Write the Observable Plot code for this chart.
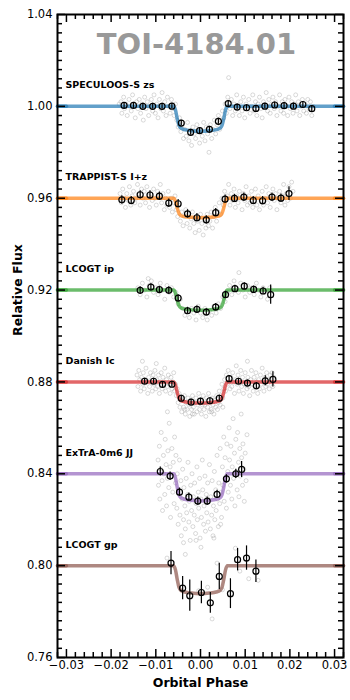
<!DOCTYPE html>
<html><head><meta charset="utf-8">
<script src="https://cdn.jsdelivr.net/npm/d3@7"></script>
<script src="https://cdn.jsdelivr.net/npm/@observablehq/plot@0.6"></script>
<style>body{margin:0;background:#fff;}</style>
</head><body><div id="chart"></div>
<script>
const names = ["SPECULOOS-S zs","TRAPPIST-S I+z","LCOGT ip","Danish Ic","ExTrA-0m6 JJ","LCOGT gp"];
const baselines = [1.00, 0.96, 0.92, 0.88, 0.84, 0.80];
const colors = ["#1f77b4","#ff7f0e","#2ca02c","#d62728","#9467bd","#8c564b"];
const depths = [0.0108, 0.0085, 0.0088, 0.0092, 0.0118, 0.0122];
const title = "TOI-4184.01";
const xTicks = [-0.03,-0.02,-0.01,0.00,0.01,0.02,0.03];
const yTicks = [0.76,0.80,0.84,0.88,0.92,0.96,1.00,1.04];

// transit model shape (fraction of depth)
const modelPhase = [-0.032,-0.030,-0.0060,-0.0056,-0.0052,-0.0048,-0.0044,-0.0035,-0.0020,0,0.0020,0.0035,0.0044,0.0048,0.0052,0.0056,0.0060,0.030,0.032];
const modelShape = [0,0,0,0.15,0.5,0.78,0.88,0.94,0.98,1,0.98,0.94,0.88,0.78,0.5,0.15,0,0,0];

// binned points
const specBinX = [-0.0171,-0.0150,-0.0129,-0.0107,-0.0086,-0.0064,-0.0043,-0.0022,-0.0002,0.0020,0.0040,0.0062,0.0082,0.0103,0.0124,0.0144,0.0166,0.0187,0.0208,0.0229,0.0249];
const specBinY = [1.0004,1.0004,1.0000,1.0000,1.0000,1.0001,0.9927,0.9887,0.9894,0.9900,0.9935,1.0012,0.9997,0.9994,0.9991,1.0001,1.0006,1.0003,1.0001,1.0008,0.9990];
const specBinE = [0.0013,0.0013,0.0013,0.0013,0.0013,0.0013,0.0013,0.0013,0.0013,0.0013,0.0013,0.0013,0.0013,0.0013,0.0013,0.0013,0.0013,0.0013,0.0013,0.0013,0.0013];
const trapBinX = [-0.0176,-0.0155,-0.0135,-0.0113,-0.0092,-0.0071,-0.0050,-0.0029,-0.0008,0.0013,0.0034,0.0055,0.0076,0.0097,0.0118,0.0139,0.0160,0.0180,0.0198];
const trapBinY = [0.9593,0.9590,0.9615,0.9614,0.9609,0.9579,0.9576,0.9532,0.9515,0.9506,0.9537,0.9596,0.9599,0.9605,0.9590,0.9589,0.9605,0.9600,0.9620];
const trapBinE = [0.0018,0.0018,0.0018,0.0018,0.0018,0.0018,0.0018,0.0018,0.0018,0.0018,0.0018,0.0018,0.0018,0.0018,0.0018,0.0018,0.0018,0.0018,0.0030];
const ipBinX = [-0.0135,-0.0111,-0.0092,-0.0071,-0.0050,-0.0029,-0.0008,0.0013,0.0034,0.0056,0.0077,0.0098,0.0119,0.0140,0.0157];
const ipBinY = [0.9199,0.9213,0.9202,0.9199,0.9165,0.9110,0.9116,0.9104,0.9126,0.9180,0.9206,0.9217,0.9203,0.9196,0.9180];
const ipBinE = [0.0016,0.0015,0.0015,0.0015,0.0015,0.0015,0.0015,0.0015,0.0015,0.0015,0.0015,0.0015,0.0015,0.0016,0.0042];
const danBinX = [-0.0125,-0.0105,-0.0085,-0.0064,-0.0043,-0.0021,0.0000,0.0021,0.0042,0.0064,0.0085,0.0105,0.0125,0.0145,0.0162];
const danBinY = [0.8803,0.8803,0.8789,0.8790,0.8729,0.8712,0.8716,0.8718,0.8729,0.8814,0.8803,0.8795,0.8783,0.8805,0.8811];
const danBinE = [0.0013,0.0013,0.0013,0.0013,0.0013,0.0013,0.0013,0.0013,0.0013,0.0013,0.0013,0.0013,0.0015,0.0022,0.0033];
const extBinX = [-0.0090,-0.0068,-0.0047,-0.0026,-0.0006,0.0015,0.0037,0.0058,0.0079,0.0092];
const extBinY = [0.8410,0.8390,0.8320,0.8298,0.8281,0.8281,0.8310,0.8378,0.8400,0.8419];
const extBinE = [0.0020,0.0018,0.0018,0.0018,0.0018,0.0018,0.0018,0.0018,0.0020,0.0035];
const gpBinX = [-0.0066,-0.0040,-0.0024,0.0002,0.0022,0.0042,0.0067,0.0083,0.0103,0.0124];
const gpBinY = [0.8011,0.7902,0.7869,0.7883,0.7838,0.7953,0.7878,0.8026,0.8033,0.7976];
const gpBinE = [0.0051,0.0051,0.0068,0.0049,0.0045,0.0057,0.0065,0.0049,0.0053,0.0049];

// unbinned (grey) points, [phase, flux]
const specRaw = [[-0.0182,1.001],[-0.0178,1.002],[-0.0176,0.997],[-0.0172,1.004],[-0.0170,0.999],[-0.0167,1.001],[-0.0164,0.996],[-0.0160,1.003],[-0.0158,1.000],[-0.0155,0.998],[-0.0152,1.005],[-0.0149,1.001],[-0.0146,0.995],[-0.0143,1.002],[-0.0140,0.999],[-0.0137,1.003],[-0.0134,0.997],[-0.0131,1.001],[-0.0128,0.994],[-0.0125,1.004],[-0.0122,0.999],[-0.0119,1.002],[-0.0116,0.996],[-0.0113,1.000],[-0.0110,1.003],[-0.0107,0.998],[-0.0104,1.005],[-0.0101,0.997],[-0.0098,1.001],[-0.0095,0.995],[-0.0092,1.003],[-0.0089,0.999],[-0.0086,1.006],[-0.0083,0.998],[-0.0080,1.002],[-0.0077,0.996],[-0.0074,1.004],[-0.0071,1.000],[-0.0068,0.997],[-0.0065,1.003],[-0.0062,0.999],[-0.0059,0.996],[-0.0056,1.001],[-0.0053,0.994],[-0.0050,0.991],[-0.0047,0.995],[-0.0044,0.989],[-0.0041,0.992],[-0.0038,0.986],[-0.0035,0.990],[-0.0032,0.987],[-0.0029,0.993],[-0.0026,0.985],[-0.0023,0.989],[-0.0020,0.983],[-0.0017,0.991],[-0.0014,0.988],[-0.0011,0.986],[-0.0008,0.992],[-0.0005,0.989],[-0.0002,0.984],[0.0001,0.990],[0.0004,0.987],[0.0007,0.993],[0.0010,0.985],[0.0013,0.991],[0.0016,0.988],[0.0019,0.980],[0.0022,0.992],[0.0025,0.986],[0.0028,0.990],[0.0031,0.994],[0.0034,0.988],[0.0037,0.992],[0.0040,0.996],[0.0043,0.990],[0.0046,0.994],[0.0049,0.998],[0.0052,0.995],[0.0055,1.001],[0.0058,0.997],[0.0061,1.004],[0.0063,1.0125],[0.0066,0.999],[0.0069,1.003],[0.0072,0.996],[0.0075,1.001],[0.0078,0.998],[0.0081,1.005],[0.0084,1.000],[0.0087,0.996],[0.0090,1.002],[0.0093,0.998],[0.0096,1.004],[0.0099,0.995],[0.0102,1.001],[0.0105,0.999],[0.0108,1.003],[0.0111,0.997],[0.0114,1.000],[0.0117,1.005],[0.0120,0.998],[0.0123,1.002],[0.0126,0.996],[0.0129,1.001],[0.0132,1.004],[0.0135,0.999],[0.0138,0.995],[0.0141,1.002],[0.0144,1.000],[0.0147,1.006],[0.0150,0.998],[0.0153,1.003],[0.0156,0.997],[0.0159,1.001],[0.0162,1.004],[0.0165,0.999],[0.0168,1.002],[0.0171,0.996],[0.0174,1.000],[0.0177,1.005],[0.0180,0.998],[0.0183,1.002],[0.0186,0.997],[0.0189,1.003],[0.0192,1.000],[0.0195,0.996],[0.0198,1.004],[0.0201,0.999],[0.0204,1.002],[0.0207,0.997],[0.0210,1.001],[0.0213,1.005],[0.0216,0.998],[0.0219,1.002],[0.0222,0.996],[0.0225,1.000],[0.0228,1.003],[0.0231,0.998],[0.0234,1.001],[0.0237,0.997],[0.0240,1.003],[0.0243,0.999],[0.0246,1.002],[0.0249,0.996],[0.0252,1.000]];
const trapRaw = [[-0.0180,0.962],[-0.0177,0.958],[-0.0174,0.964],[-0.0171,0.960],[-0.0168,0.956],[-0.0165,0.962],[-0.0162,0.959],[-0.0159,0.965],[-0.0156,0.957],[-0.0153,0.961],[-0.0150,0.963],[-0.0147,0.958],[-0.0144,0.960],[-0.0141,0.966],[-0.0138,0.962],[-0.0135,0.957],[-0.0132,0.964],[-0.0129,0.960],[-0.0126,0.963],[-0.0123,0.958],[-0.0120,0.965],[-0.0117,0.961],[-0.0114,0.956],[-0.0111,0.962],[-0.0108,0.959],[-0.0105,0.964],[-0.0102,0.960],[-0.0099,0.957],[-0.0096,0.963],[-0.0093,0.961],[-0.0090,0.966],[-0.0087,0.958],[-0.0084,0.962],[-0.0081,0.955],[-0.0078,0.960],[-0.0075,0.957],[-0.0072,0.963],[-0.0069,0.956],[-0.0066,0.960],[-0.0063,0.954],[-0.0060,0.958],[-0.0057,0.961],[-0.0054,0.955],[-0.0051,0.952],[-0.0048,0.957],[-0.0045,0.950],[-0.0042,0.954],[-0.0039,0.948],[-0.0036,0.952],[-0.0033,0.955],[-0.0030,0.949],[-0.0027,0.953],[-0.0024,0.947],[-0.0021,0.951],[-0.0018,0.954],[-0.0015,0.949],[-0.0012,0.945],[-0.0009,0.952],[-0.0006,0.950],[-0.0003,0.946],[0.0000,0.953],[0.0003,0.949],[0.0006,0.944],[0.0009,0.951],[0.0012,0.947],[0.0015,0.953],[0.0018,0.948],[0.0021,0.950],[0.0024,0.954],[0.0027,0.947],[0.0030,0.952],[0.0033,0.956],[0.0036,0.950],[0.0039,0.954],[0.0042,0.958],[0.0045,0.953],[0.0048,0.960],[0.0051,0.957],[0.0054,0.963],[0.0057,0.959],[0.0060,0.961],[0.0063,0.966],[0.0066,0.957],[0.0069,0.962],[0.0072,0.959],[0.0075,0.964],[0.0078,0.956],[0.0081,0.961],[0.0084,0.958],[0.0087,0.963],[0.0090,0.960],[0.0093,0.955],[0.0096,0.962],[0.0099,0.959],[0.0102,0.965],[0.0105,0.957],[0.0108,0.961],[0.0111,0.958],[0.0114,0.963],[0.0117,0.956],[0.0120,0.960],[0.0123,0.964],[0.0126,0.957],[0.0129,0.961],[0.0132,0.955],[0.0135,0.959],[0.0138,0.963],[0.0141,0.957],[0.0144,0.960],[0.0147,0.965],[0.0150,0.958],[0.0153,0.962],[0.0156,0.956],[0.0159,0.960],[0.0162,0.964],[0.0165,0.959],[0.0168,0.962],[0.0171,0.955],[0.0174,0.960],[0.0177,0.963],[0.0180,0.958],[0.0183,0.961],[0.0186,0.966],[0.0189,0.957],[0.0192,0.962],[0.0195,0.959],[0.0198,0.965],[0.0201,0.960],[0.0204,0.967],[0.0207,0.963]];
const ipRaw = [[-0.0140,0.921],[-0.0135,0.918],[-0.0130,0.923],[-0.0125,0.920],[-0.0120,0.917],[-0.0117,0.925],[-0.0115,0.922],[-0.0110,0.924],[-0.0105,0.919],[-0.0100,0.921],[-0.0095,0.918],[-0.0090,0.923],[-0.0085,0.920],[-0.0080,0.916],[-0.0075,0.922],[-0.0070,0.919],[-0.0065,0.921],[-0.0060,0.917],[-0.0055,0.919],[-0.0050,0.914],[-0.0045,0.916],[-0.0040,0.912],[-0.0035,0.909],[-0.0030,0.911],[-0.0025,0.908],[-0.0020,0.912],[-0.0015,0.910],[-0.0010,0.907],[-0.0005,0.913],[0.0000,0.910],[0.0005,0.908],[0.0010,0.912],[0.0015,0.907],[0.0020,0.911],[0.0025,0.909],[0.0030,0.913],[0.0035,0.910],[0.0040,0.914],[0.0045,0.912],[0.0050,0.917],[0.0055,0.915],[0.0060,0.919],[0.0065,0.922],[0.0070,0.918],[0.0075,0.924],[0.0080,0.921],[0.0086,0.9276],[0.0085,0.919],[0.0090,0.923],[0.0095,0.920],[0.0100,0.917],[0.0105,0.922],[0.0110,0.919],[0.0115,0.921],[0.0120,0.918],[0.0125,0.923],[0.0130,0.920],[0.0135,0.917],[0.0140,0.921],[0.0145,0.919],[0.0150,0.916],[0.0155,0.921]];
const danRaw = [[-0.0142,0.883],[-0.0140,0.878],[-0.0138,0.885],[-0.0136,0.881],[-0.0134,0.876],[-0.0132,0.882],[-0.0130,0.889],[-0.0129,0.879],[-0.0128,0.884],[-0.0126,0.877],[-0.0124,0.881],[-0.0122,0.886],[-0.0120,0.880],[-0.0118,0.875],[-0.0116,0.882],[-0.0114,0.878],[-0.0112,0.884],[-0.0110,0.880],[-0.0108,0.876],[-0.0106,0.883],[-0.0104,0.879],[-0.0102,0.885],[-0.0100,0.877],[-0.0099,0.888],[-0.0098,0.881],[-0.0096,0.878],[-0.0094,0.883],[-0.0092,0.875],[-0.0090,0.880],[-0.0088,0.884],[-0.0086,0.877],[-0.0084,0.882],[-0.0082,0.879],[-0.0080,0.886],[-0.0078,0.876],[-0.0076,0.881],[-0.0074,0.878],[-0.0072,0.883],[-0.0070,0.879],[-0.0068,0.875],[-0.0066,0.882],[-0.0064,0.877],[-0.0062,0.880],[-0.0060,0.884],[-0.0058,0.876],[-0.0056,0.879],[-0.0054,0.874],[-0.0052,0.877],[-0.0050,0.871],[-0.0048,0.875],[-0.0046,0.869],[-0.0044,0.873],[-0.0042,0.867],[-0.0040,0.872],[-0.0038,0.869],[-0.0036,0.874],[-0.0034,0.866],[-0.0032,0.871],[-0.0030,0.868],[-0.0028,0.873],[-0.0026,0.870],[-0.0024,0.865],[-0.0022,0.872],[-0.0020,0.868],[-0.0018,0.874],[-0.0016,0.869],[-0.0014,0.866],[-0.0012,0.871],[-0.0010,0.873],[-0.0008,0.867],[-0.0006,0.870],[-0.0004,0.875],[-0.0002,0.868],[0.0000,0.872],[0.0002,0.866],[0.0004,0.870],[0.0006,0.874],[0.0008,0.868],[0.0010,0.871],[0.0012,0.865],[0.0014,0.873],[0.0016,0.869],[0.0018,0.875],[0.0020,0.867],[0.0022,0.871],[0.0024,0.868],[0.0026,0.873],[0.0028,0.870],[0.0030,0.866],[0.0032,0.872],[0.0034,0.869],[0.0036,0.874],[0.0038,0.868],[0.0040,0.871],[0.0042,0.876],[0.0044,0.870],[0.0046,0.874],[0.0048,0.879],[0.0050,0.873],[0.0052,0.877],[0.0054,0.881],[0.0056,0.876],[0.0058,0.883],[0.0060,0.879],[0.0062,0.885],[0.0064,0.880],[0.0066,0.877],[0.0068,0.882],[0.0070,0.878],[0.0072,0.884],[0.0074,0.880],[0.0076,0.875],[0.0078,0.881],[0.0080,0.887],[0.0082,0.879],[0.0084,0.883],[0.0086,0.876],[0.0088,0.880],[0.0090,0.885],[0.0092,0.878],[0.0094,0.882],[0.0096,0.875],[0.0098,0.879],[0.0100,0.884],[0.0102,0.880],[0.0104,0.877],[0.0105,0.889],[0.0106,0.882],[0.0108,0.878],[0.0110,0.874],[0.0112,0.881],[0.0114,0.885],[0.0116,0.879],[0.0118,0.876],[0.0120,0.882],[0.0122,0.878],[0.0124,0.884],[0.0126,0.880],[0.0128,0.875],[0.0130,0.881],[0.0132,0.877],[0.0134,0.883],[0.0136,0.879],[0.0138,0.886],[0.0140,0.880],[0.0142,0.876],[0.0144,0.882],[0.0146,0.878],[0.0148,0.884],[0.0150,0.879],[0.0152,0.881],[0.0154,0.877],[0.0156,0.883],[0.0158,0.880],[0.0160,0.884],[0.0162,0.878],[0.0164,0.882]];
const extRaw = [[-0.0095,0.846],[-0.0094,0.835],[-0.0092,0.852],[-0.0091,0.829],[-0.0089,0.842],[-0.0088,0.858],[-0.0086,0.837],[-0.0085,0.824],[-0.0083,0.848],[-0.0082,0.840],[-0.0080,0.831],[-0.0079,0.855],[-0.0077,0.844],[-0.0076,0.826],[-0.0074,0.838],[-0.0074,0.867],[-0.0073,0.850],[-0.0071,0.834],[-0.0070,0.862],[-0.0068,0.843],[-0.0067,0.821],[-0.0065,0.839],[-0.0064,0.851],[-0.0062,0.832],[-0.0061,0.845],[-0.0059,0.827],[-0.0058,0.856],[-0.0056,0.836],[-0.0055,0.848],[-0.0053,0.825],[-0.0052,0.840],[-0.0050,0.818],[-0.0049,0.833],[-0.0047,0.846],[-0.0046,0.822],[-0.0044,0.837],[-0.0043,0.813],[-0.0041,0.829],[-0.0040,0.842],[-0.0038,0.820],[-0.0038,0.810],[-0.0037,0.834],[-0.0035,0.826],[-0.0035,0.868],[-0.0034,0.816],[-0.0032,0.838],[-0.0031,0.823],[-0.0029,0.831],[-0.0028,0.845],[-0.0026,0.819],[-0.0025,0.828],[-0.0023,0.811],[-0.0022,0.835],[-0.0020,0.824],[-0.0019,0.840],[-0.0018,0.866],[-0.0017,0.817],[-0.0016,0.830],[-0.0014,0.822],[-0.0013,0.836],[-0.0011,0.814],[-0.0010,0.827],[-0.0010,0.811],[-0.0008,0.843],[-0.0007,0.820],[-0.0005,0.832],[-0.0004,0.825],[-0.0002,0.838],[-0.0001,0.812],[0.0001,0.829],[0.0001,0.808],[0.0002,0.821],[0.0004,0.846],[0.0005,0.833],[0.0007,0.818],[0.0008,0.826],[0.0010,0.839],[0.0010,0.870],[0.0011,0.815],[0.0013,0.831],[0.0014,0.823],[0.0016,0.836],[0.0017,0.819],[0.0019,0.828],[0.0020,0.844],[0.0022,0.816],[0.0023,0.830],[0.0025,0.822],[0.0025,0.867],[0.0026,0.837],[0.0028,0.813],[0.0029,0.826],[0.0030,0.812],[0.0031,0.841],[0.0032,0.820],[0.0034,0.833],[0.0035,0.824],[0.0037,0.848],[0.0038,0.829],[0.0040,0.817],[0.0041,0.836],[0.0043,0.827],[0.0044,0.851],[0.0045,0.818],[0.0046,0.832],[0.0047,0.821],[0.0049,0.843],[0.0050,0.835],[0.0050,0.869],[0.0052,0.856],[0.0053,0.828],[0.0055,0.847],[0.0056,0.838],[0.0058,0.825],[0.0059,0.853],[0.0061,0.841],[0.0062,0.832],[0.0064,0.860],[0.0065,0.846],[0.0067,0.835],[0.0068,0.852],[0.0070,0.829],[0.0071,0.843],[0.0073,0.864],[0.0074,0.838],[0.0076,0.849],[0.0077,0.826],[0.0079,0.855],[0.0080,0.841],[0.0082,0.833],[0.0083,0.858],[0.0085,0.845],[0.0086,0.830],[0.0088,0.851],[0.0089,0.839],[0.0091,0.866],[0.0092,0.847],[0.0094,0.835],[0.0095,0.853],[0.0097,0.842],[0.0098,0.828],[0.0100,0.849],[0.0102,0.837],[0.0104,0.857]];
const gpRaw = [[-0.0075,0.8033],[-0.0034,0.8049],[-0.0004,0.7891],[0.0016,0.7906],[0.0026,0.7768],[0.0037,0.8011],[0.0049,0.7895],[0.0078,0.8076],[0.0088,0.7976],[0.0108,0.7943],[0.0129,0.7936]];

const rawSets = [specRaw, trapRaw, ipRaw, danRaw, extRaw, gpRaw];
const binSets = [[specBinX,specBinY,specBinE],[trapBinX,trapBinY,trapBinE],[ipBinX,ipBinY,ipBinE],[danBinX,danBinY,danBinE],[extBinX,extBinY,extBinE],[gpBinX,gpBinY,gpBinE]];

const rawAll = rawSets.flatMap((s,i) => s.map(([p,f]) => ({phase:p, flux:f, inst:names[i]})));
const binAll = binSets.flatMap(([xs,ys,es],i) => xs.map((p,j) => ({phase:p, flux:ys[j], err:es[j], inst:names[i]})));
const modelAll = names.flatMap((n,i) => modelPhase.map((p,j) => ({phase:p, flux: baselines[i] - depths[i]*modelShape[j], inst:n})));
const edgeAll = modelAll.filter(d => Math.abs(d.phase) >= 0.030);
const labelsData = names.map((n,i) => ({name:n, y: baselines[i] + 0.0078}));

const W = 350, H = 700, mL = 57, mR = 7, mT = 14, mB = 43;
const innerW = W - mL - mR, innerH = H - mT - mB;
const xMinor = d3.range(-0.032, 0.0321, 0.002).map(v => +v.toFixed(3)).filter(v => !xTicks.some(t => Math.abs(t - v) < 1e-9));
const yMinor = d3.range(0.76, 1.0401, 0.004).map(v => +v.toFixed(3)).filter(v => !yTicks.some(t => Math.abs(t - v) < 1e-9));

const plot = Plot.plot({
  width: W, height: H,
  marginLeft: mL, marginRight: mR, marginTop: mT, marginBottom: mB,
  style: {fontFamily: "DejaVu Sans", fontSize: "11.5px", background: "#fff", color: "#000"},
  x: {domain: [-0.032, 0.032]},
  y: {domain: [0.76, 1.04]},
  color: {domain: names, range: colors},
  marks: [
    Plot.dot(rawAll, {x: "phase", y: "flux", r: 2, fill: "none", stroke: "#8c8c8c", strokeOpacity: 0.4, strokeWidth: 0.8}),
    Plot.line(modelAll, {x: "phase", y: "flux", z: "inst", stroke: "inst", strokeWidth: 3.5, strokeOpacity: 0.7, curve: "monotone-x"}),
    Plot.line(edgeAll, {x: "phase", y: "flux", z: d => d.inst + (d.phase < 0 ? "L" : "R"), stroke: "inst", strokeWidth: 3.5, strokeOpacity: 0.7}),
    Plot.ruleX(binAll, {x: "phase", y1: d => d.flux - d.err, y2: d => d.flux + d.err, stroke: "#000", strokeWidth: 1.2}),
    Plot.dot(binAll, {x: "phase", y: "flux", r: 3, fill: "none", stroke: "#000", strokeWidth: 1.2}),
    Plot.text(labelsData, {y: "y", text: "name", frameAnchor: "left", dx: 8, textAnchor: "start", lineAnchor: "bottom", fontWeight: "bold", fontSize: 9.5}),
    Plot.text([title], {text: d => d, frameAnchor: "top", dx: -4, dy: 39, lineAnchor: "bottom", fontSize: 29, fontWeight: "bold", fill: "#999999"}),
    // inward ticks
    Plot.tickX(xTicks, {x: d => d, insetTop: innerH - 8, stroke: "#000", strokeWidth: 1.5}),
    Plot.tickX(xMinor, {x: d => d, insetTop: innerH - 5, stroke: "#000", strokeWidth: 1.5}),
    Plot.tickX(xTicks, {x: d => d, insetBottom: innerH - 8, stroke: "#000", strokeWidth: 1.5}),
    Plot.tickX(xMinor, {x: d => d, insetBottom: innerH - 5, stroke: "#000", strokeWidth: 1.5}),
    Plot.tickY(yTicks, {y: d => d, insetRight: innerW - 8, stroke: "#000", strokeWidth: 1.5}),
    Plot.tickY(yMinor, {y: d => d, insetRight: innerW - 5, stroke: "#000", strokeWidth: 1.5}),
    Plot.tickY(yTicks, {y: d => d, insetLeft: innerW - 8, stroke: "#000", strokeWidth: 1.5}),
    Plot.tickY(yMinor, {y: d => d, insetLeft: innerW - 5, stroke: "#000", strokeWidth: 1.5}),
    Plot.frame({stroke: "#000", strokeWidth: 2}),
    Plot.axisX({ticks: xTicks, tickSize: 0, tickPadding: 3, tickFormat: d3.format(".2f"), label: null, fontSize: 11.5}),
    Plot.axisY({ticks: yTicks, tickSize: 0, tickPadding: 5, tickFormat: d3.format(".2f"), label: null, fontSize: 11.5}),
    Plot.text(["Orbital Phase"], {text: d => d, frameAnchor: "bottom", dy: 25, lineAnchor: "middle", fontWeight: "bold", fontSize: 12.5}),
    Plot.text(["Relative Flux"], {text: d => d, frameAnchor: "left", dx: -40, rotate: -90, lineAnchor: "middle", fontWeight: "bold", fontSize: 12.5})
  ]
});
document.getElementById("chart").appendChild(plot);
</script>
</body></html>
